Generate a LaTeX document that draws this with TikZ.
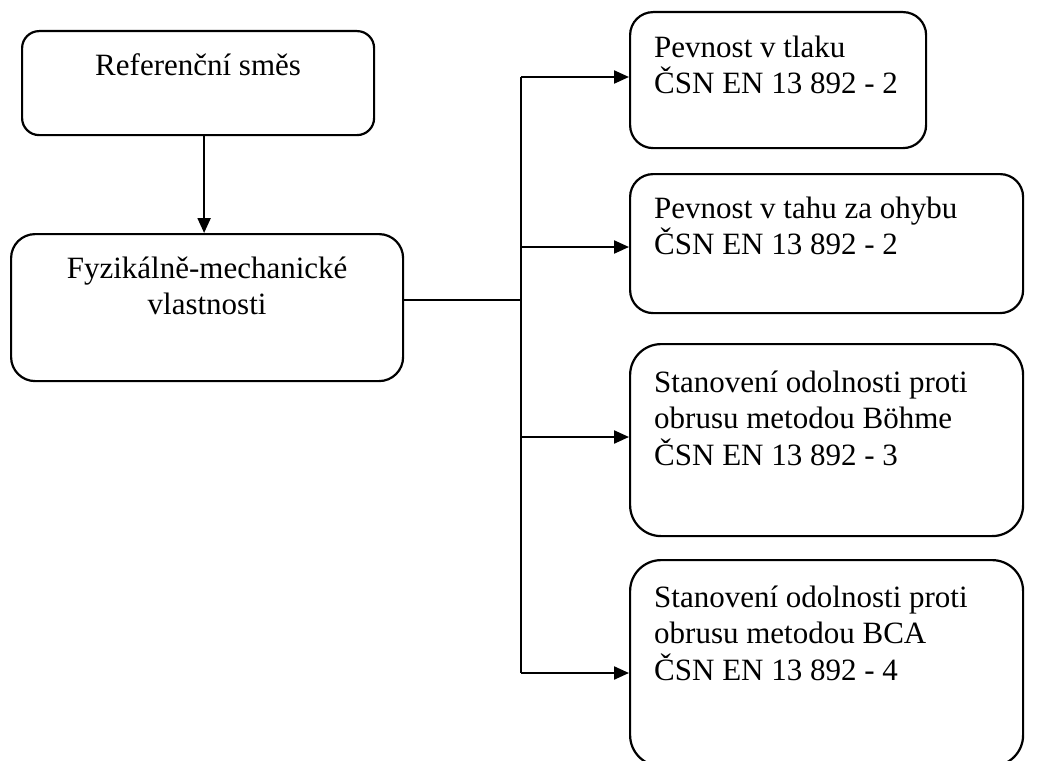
\documentclass[tikz,border=0pt]{standalone}
\usepackage{fontspec}
\setmainfont{Liberation Serif}
\usetikzlibrary{positioning, arrows.meta, calc}

\begin{document}
\begin{tikzpicture}[x=1pt, y=-1pt,
  box/.style={draw, line width=2.2pt, anchor=north west, inner sep=0pt},
  txt/.style={inner sep=0pt, font=\fontsize{31}{36.5}\selectfont},
  arr/.style={line width=2.2pt, -{Triangle[length=15pt, width=13pt]}}]
\useasboundingbox (0,0) rectangle (1043,760);

% Left column
\node[box, rounded corners=17pt, minimum width=352pt, minimum height=104pt] (ref) at (21,30) {};
\node[txt, anchor=base] (reft) at ($(ref.north)+(0,45)$) {Referenční směs};
\node[box, rounded corners=24pt, minimum width=392pt, minimum height=147pt] (fyz) at (10,233) {};
\node[txt, anchor=base, align=center] (fyzt) at ($(fyz.north)+(0,81.5)$) {Fyzikálně-mechanické\\vlastnosti};

% Right column (tests), base = last line
\node[box, rounded corners=23pt, minimum width=296pt, minimum height=136pt] (tlak) at (629,11) {};
\node[txt, anchor=base west, align=left] (tlakt) at ($(tlak.north west)+(25,82.5)$) {Pevnost v tlaku\\ČSN EN 13 892 - 2};
\node[box, rounded corners=23pt, minimum width=393pt, minimum height=139pt] (ohyb) at (629,173) {};
\node[txt, anchor=base west, align=left] (ohybt) at ($(ohyb.north west)+(25,81.5)$) {Pevnost v tahu za ohybu\\ČSN EN 13 892 - 2};
\node[box, rounded corners=31pt, minimum width=393pt, minimum height=192pt] (bohme) at (629,343) {};
\node[txt, anchor=base west, align=left] (bohmet) at ($(bohme.north west)+(25,122)$) {Stanovení odolnosti proti\\obrusu metodou Böhme\\ČSN EN 13 892 - 3};
\node[box, rounded corners=31pt, minimum width=393pt, minimum height=206pt] (bca) at (629,559) {};
\node[txt, anchor=base west, align=left] (bcat) at ($(bca.north west)+(25,121)$) {Stanovení odolnosti proti\\obrusu metodou BCA\\ČSN EN 13 892 - 4};

% Connectors
\coordinate (down) at ($(ref.south)+(6,0)$);
\draw[arr] (down) -- (down |- fyz.north);
\coordinate (jn) at (521,300);
\draw[line width=2.2pt] (fyz.east |- jn) -- (jn);
\foreach \y/\b in {77/tlak, 247/ohyb, 437/bohme, 673/bca} {
  \coordinate (s\b) at (521,\y);
  \draw[arr] (s\b) -- (s\b -| \b.west);
}
\draw[line width=2.2pt] (stlak) -- (sbca);
\end{tikzpicture}
\end{document}
